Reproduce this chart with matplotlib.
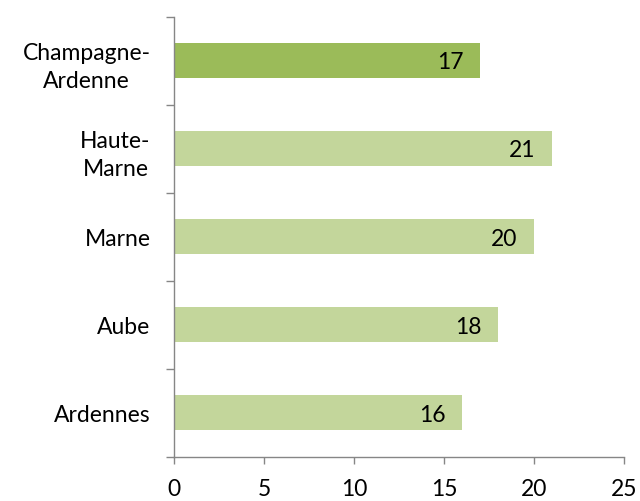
import matplotlib
matplotlib.use("Agg")
import matplotlib.pyplot as plt
import numpy as np

categories = ["Ardennes", "Aube", "Marne", "Haute-\nMarne", "Champagne-\nArdenne"]
values = [16, 18, 20, 21, 17]
colors = ["#C3D69B", "#C3D69B", "#C3D69B", "#C3D69B", "#9BBB59"]
xticks = [0, 5, 10, 15, 20, 25]

plt.rcParams['font.family'] = ['Lato', 'DejaVu Sans']

fig = plt.figure(figsize=(6.4, 5.02), dpi=100)
ax = fig.add_axes([0.2723, 0.0882, 0.975 - 0.2723, 0.9651 - 0.0882])

y = np.arange(len(categories))
bars = ax.barh(y, values, height=0.40, color=colors, zorder=2)

for yi, v in zip(y, values):
    ax.annotate(str(v), xy=(v, yi), xytext=(-12, -1), textcoords="offset points",
                ha="right", va="center", fontsize=16.5, color="black")

ax.set_xlim(0, 25)
ax.set_ylim(-0.5, len(categories) - 0.5)
ax.set_xticks(xticks)
ax.set_xticklabels([str(t) for t in xticks], fontsize=16.5)

ax.set_yticks(np.arange(-0.5, len(categories), 1.0))
ax.set_yticklabels([])
ax.set_yticks(y, minor=True)
ax.set_yticklabels(categories, minor=True, fontsize=16.5, multialignment="center",
                   linespacing=1.45)

ax.tick_params(axis="y", which="major", direction="out", length=6, color="#868686", width=1)
ax.tick_params(axis="y", which="minor", length=0, pad=17)
ax.tick_params(axis="x", direction="out", length=5, color="#868686", width=1, pad=10)

for s in ["top", "right"]:
    ax.spines[s].set_visible(False)
for s in ["left", "bottom"]:
    ax.spines[s].set_color("#868686")
    ax.spines[s].set_linewidth(1)

fig.savefig("out.png", dpi=100)
